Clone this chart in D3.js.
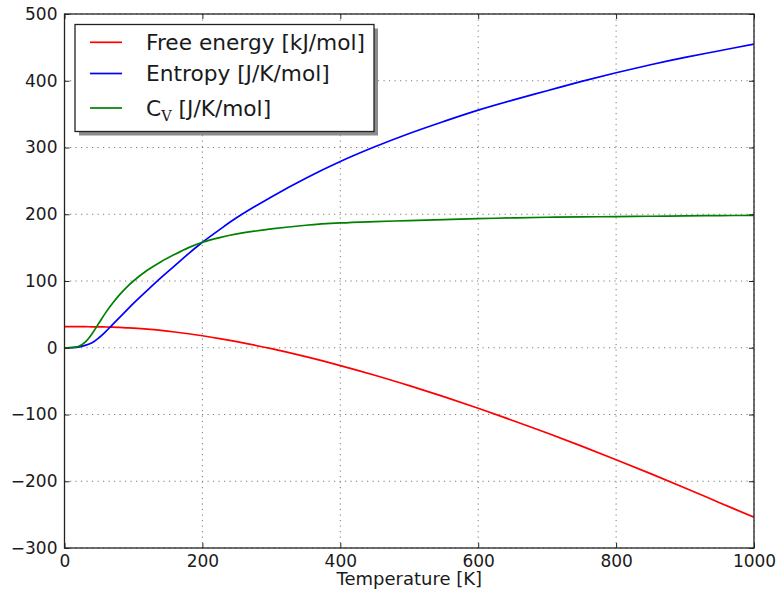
<!DOCTYPE html>
<html>
<head>
<meta charset="utf-8">
<script src="https://cdn.jsdelivr.net/npm/d3@7"></script>
<style>
  body { margin: 0; background: #fff; }
  text { font-family: "DejaVu Sans", sans-serif; fill: #1a1a1a; }
</style>
</head>
<body>
<svg id="chart" width="777" height="594"></svg>
<script>
// values
const temperatures = [0, 10, 20, 30, 40, 50, 60, 70, 80, 90, 100, 120, 140, 160, 180, 200, 225, 250, 300, 350, 400, 450, 500, 550, 600, 650, 700, 750, 800, 850, 900, 950, 1000];
const freeEnergy = [31.5, 31.5, 31.5, 31.5, 31.4, 31.3, 31.1, 30.8, 30.4, 29.9, 29.3, 27.8, 25.9, 23.6, 21.0, 18.0, 13.8, 9.1, -1.4, -13.4, -26.7, -41.2, -56.8, -73.3, -90.7, -108.9, -127.8, -147.4, -167.7, -188.6, -210.1, -232.1, -254.0];
const entropy = [0, 0.1, 1, 3.5, 7.5, 15, 24.5, 35, 45.5, 56, 66.5, 86, 105, 123, 141, 158, 177, 195, 226, 254, 279, 301, 321, 339, 356, 371, 385, 399, 412, 424, 435, 445, 455];
const heatCapacity = [0, 0.1, 1.8, 8.5, 21, 37, 53, 67, 79.5, 90.5, 100, 116, 129, 140, 150, 158, 165, 170.5, 178, 183.5, 187, 189, 190.5, 192, 193.5, 194.5, 195.5, 196, 196.5, 197, 197.5, 198, 198.3];

const xTicks = [0, 200, 400, 600, 800, 1000];
const yTicks = [-300, -200, -100, 0, 100, 200, 300, 400, 500];

const seriesNames = ["Free energy [kJ/mol]", "Entropy [J/K/mol]", "Cv"];
const seriesColors = ["#ff0000", "#0000ff", "#008000"];
const seriesValues = [freeEnergy, entropy, heatCapacity];

const plotLeft = 64.5, plotRight = 754, plotTop = 14, plotBottom = 548;

const svg = d3.select("#chart");

const x = d3.scaleLinear().domain([0, 1000]).range([plotLeft, plotRight]);
const y = d3.scaleLinear().domain([-300, 500]).range([plotBottom, plotTop]);

// dotted grid
const grid = svg.append("g")
  .attr("stroke", "#7a7a7a")
  .attr("stroke-width", 1)
  .attr("stroke-dasharray", "1.2,4.3");
grid.selectAll(".gx").data(xTicks).enter().append("line")
  .attr("x1", (d) => x(d)).attr("x2", (d) => x(d))
  .attr("y1", plotTop).attr("y2", plotBottom);
grid.selectAll(".gy").data(yTicks).enter().append("line")
  .attr("x1", plotLeft).attr("x2", plotRight)
  .attr("y1", (d) => y(d)).attr("y2", (d) => y(d));

// curves
svg.append("clipPath").attr("id", "plotClip")
  .append("rect")
  .attr("x", plotLeft).attr("y", plotTop)
  .attr("width", plotRight - plotLeft).attr("height", plotBottom - plotTop);

const line = d3.line()
  .x((d) => x(d[0]))
  .y((d) => y(d[1]))
  .curve(d3.curveCatmullRom.alpha(0.5));

seriesValues.forEach((vals, i) => {
  svg.append("path")
    .attr("clip-path", "url(#plotClip)")
    .attr("fill", "none")
    .attr("stroke", seriesColors[i])
    .attr("stroke-width", 1.7)
    .attr("d", line(temperatures.map((t, j) => [t, vals[j]])));
});

// axes, ticks pointing inward on all four sides
const fmt = d3.format("d");
const styleAxis = (g) => {
  g.select(".domain").remove();
  g.selectAll(".tick line").attr("stroke", "#222").attr("stroke-width", 1);
  g.selectAll(".tick text").style("font-size", "17px").attr("fill", "#1a1a1a");
};

svg.append("g")
  .attr("transform", `translate(0,${plotBottom})`)
  .call(d3.axisBottom(x).tickValues(xTicks).tickFormat(fmt).tickSize(-5).tickPadding(7))
  .call(styleAxis);
svg.append("g")
  .attr("transform", `translate(0,${plotTop})`)
  .call(d3.axisTop(x).tickValues(xTicks).tickSize(-5).tickFormat(""))
  .call(styleAxis);
svg.append("g")
  .attr("transform", `translate(${plotLeft},0)`)
  .call(d3.axisLeft(y).tickValues(yTicks).tickFormat(fmt).tickSize(-5).tickPadding(7))
  .call(styleAxis);
svg.append("g")
  .attr("transform", `translate(${plotRight},0)`)
  .call(d3.axisRight(y).tickValues(yTicks).tickSize(-5).tickFormat(""))
  .call(styleAxis);

// frame
svg.append("rect")
  .attr("x", plotLeft).attr("y", plotTop)
  .attr("width", plotRight - plotLeft).attr("height", plotBottom - plotTop)
  .attr("fill", "none")
  .attr("stroke", "#222")
  .attr("stroke-width", 1.3);

// x label
svg.append("text")
  .attr("x", (plotLeft + plotRight) / 2)
  .attr("y", 585)
  .attr("text-anchor", "middle")
  .style("font-size", "18px")
  .text("Temperature [K]");

// legend with drop shadow
const legend = svg.append("g");
legend.append("rect")
  .attr("x", 79).attr("y", 28.5)
  .attr("width", 299).attr("height", 107)
  .attr("fill", "#8c8c8c");
legend.append("rect")
  .attr("x", 75).attr("y", 24.5)
  .attr("width", 299).attr("height", 107)
  .attr("fill", "#fff")
  .attr("stroke", "#222")
  .attr("stroke-width", 1.3);

const rowY = [42.3, 73.5, 108];
seriesNames.forEach((name, i) => {
  legend.append("line")
    .attr("x1", 90).attr("x2", 122)
    .attr("y1", rowY[i]).attr("y2", rowY[i])
    .attr("stroke", seriesColors[i])
    .attr("stroke-width", 1.7);
  const t = legend.append("text")
    .attr("x", 146)
    .attr("y", rowY[i] + 7.5)
    .style("font-size", "21.7px");
  if (name === "Cv") {
    t.append("tspan").text("C");
    t.append("tspan")
      .attr("dy", 5)
      .style("font-size", "14.5px")
      .style("font-family", "'DejaVu Serif', serif")
      .text("V");
    t.append("tspan").attr("dy", -5).text(" [J/K/mol]");
  } else {
    t.text(name);
  }
});
</script>
</body>
</html>
